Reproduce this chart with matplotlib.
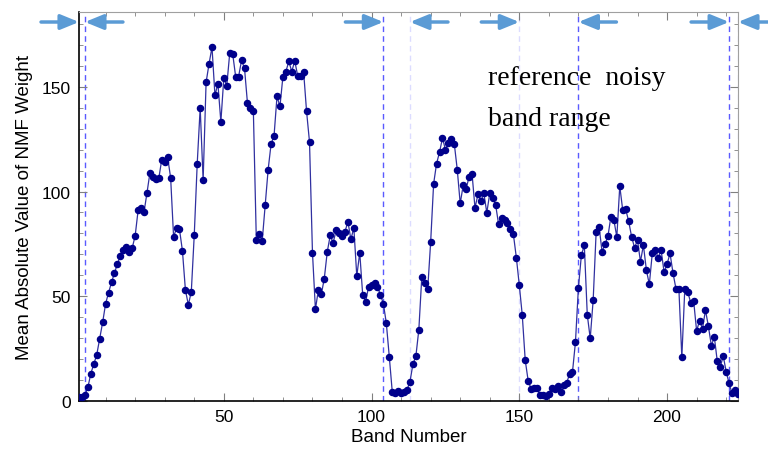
import numpy as np
import matplotlib.pyplot as plt
from matplotlib.ticker import MultipleLocator

# --- mean |NMF weight| per band ---
weight = [
    1.6, 1.6, 2.7, 6.4, 13, 17.5, 22, 29.7, 37.5, 46.4,
    51.7, 56.6, 61, 65.5, 69.3, 72, 73.6, 71, 73, 78.9,
    91.1, 92, 90.2, 99.4, 109, 106.9, 106, 106.4, 115.3, 114.2,
    116.3, 106.6, 78.4, 82.4, 81.9, 71.6, 53, 45.8, 52.2, 79.4,
    113.4, 140, 105.4, 152.2, 161.1, 169, 146, 151.6, 133.3, 154.3,
    150.6, 166.2, 165.9, 155, 155, 162.7, 159, 142.3, 140, 138.4,
    76.8, 79.8, 76.5, 93.8, 110.5, 122.8, 126.7, 145.5, 140.7, 155,
    157.4, 162.2, 157.4, 162.5, 155.4, 155.4, 157.4, 138.4, 123.7, 70.8,
    43.7, 53, 50.9, 58.4, 71.1, 79, 75.5, 81.4, 80.3, 78.7,
    80.8, 85.6, 77.1, 82.7, 59.6, 70.8, 50.6, 47.4, 54.5, 55.3,
    56.5, 54.5, 50.6, 46.4, 37, 21, 4.3, 3.7, 4.8, 3.5,
    4.3, 5.2, 9.1, 17.5, 21.3, 34, 59.2, 56.5, 53.3, 75.9,
    103.7, 113.4, 118.8, 125.6, 120, 123.3, 125.2, 122.8, 110.5, 94.3,
    102.9, 101.3, 107, 108.6, 92.2, 98.6, 95.4, 99.1, 89.9, 99.1,
    97, 93.5, 84.3, 87.5, 86.2, 84.8, 82.2, 79.5, 68.4, 55.2,
    40.9, 19.4, 9.5, 5.6, 5.9, 5.9, 2.5, 2.7, 2.4, 3,
    5.9, 5.8, 7.2, 4.3, 7.5, 8.3, 12.8, 13.8, 28, 54,
    69.5, 74.4, 41.1, 29.8, 48.2, 80.6, 83.2, 71.3, 74.8, 78.7,
    88, 86.4, 78.3, 102.6, 91.1, 91.5, 85.9, 78.4, 73.2, 76.7,
    66.5, 74.4, 62.5, 55.6, 70.5, 72.1, 68.4, 71.9, 61.5, 65.2,
    70.5, 61.2, 53.6, 53.6, 20.7, 53.3, 52, 46.9, 47.7, 33.4,
    38.2, 34.5, 43.3, 35.5, 26.3, 30.5, 18.8, 15.9, 21.5, 13.9,
    8.3, 3.5, 5.1, 3.2,
]
bands = np.arange(1, len(weight) + 1)

# band boundaries marked with dashed lines
dark_lines = [3, 104, 170, 221]
light_lines = [113, 150, 224]
# arrows: tip positions
right_arrow_tips = [1, 104, 150, 221]
left_arrow_tips = [3, 113, 170, 224]

x_ticks = [50, 100, 150, 200]
y_ticks = [0, 50, 100, 150]

fig = plt.figure(figsize=(7.68, 4.52), dpi=100)
ax = fig.add_axes([0.1029, 0.1113, 0.858, 0.8606])

for b in dark_lines:
    ax.axvline(b, color='#5a5aff', lw=1.0, ls=(0, (4, 3)), zorder=1)
for b in light_lines:
    ax.axvline(b, color='#dcdcff', lw=1.0, ls=(0, (4, 3)), zorder=1)

ax.plot(bands, weight, '-', color='#3030a0', lw=0.9, zorder=2)
ax.plot(bands, weight, 'o', color='#00008b', ms=4.4, mec='#00008b', zorder=3)

ax.set_xlim(1, 224)
ax.set_ylim(0, 186)
ax.set_xticks(x_ticks)
ax.set_yticks(y_ticks)
ax.xaxis.set_minor_locator(MultipleLocator(10))
ax.yaxis.set_minor_locator(MultipleLocator(10))
ax.tick_params(which='both', direction='in', top=True, right=True,
               color='#808080', labelsize=12.5)
ax.tick_params(which='major', length=6, pad=6)
ax.tick_params(which='minor', length=3)
for lab in ax.get_xticklabels() + ax.get_yticklabels():
    lab.set_fontfamily('Liberation Sans')
for s in ['top', 'right']:
    ax.spines[s].set_color('#a0a0a0')
for s in ['left', 'bottom']:
    ax.spines[s].set_linewidth(1.2)

ax.set_xlabel('Band Number', fontsize=13.5, family='Liberation Sans', labelpad=3)
ax.set_ylabel('Mean Absolute Value of NMF Weight', fontsize=13.5,
              family='Liberation Sans', labelpad=6)

# arrows above the plot
arrow_y = 0.9735
arrow_col = '#5b9bd5'
aprops = dict(arrowstyle='-|>,head_length=1.1,head_width=0.45',
              color=arrow_col, lw=2.5, shrinkA=0, shrinkB=0)
for b in right_arrow_tips:
    ax.annotate('', xy=(b, arrow_y), xycoords=('data', 'axes fraction'),
                xytext=(-38, 0), textcoords='offset pixels',
                arrowprops=aprops, annotation_clip=False)
for b in left_arrow_tips:
    ax.annotate('', xy=(b, arrow_y), xycoords=('data', 'axes fraction'),
                xytext=(38, 0), textcoords='offset pixels',
                arrowprops=aprops, annotation_clip=False)

ax.text(488 / 768, 1 - 85 / 452, 'reference  noisy', transform=fig.transFigure,
        fontsize=20, family='Liberation Serif', va='baseline')
ax.text(488 / 768, 1 - 126 / 452, 'band range', transform=fig.transFigure,
        fontsize=20, family='Liberation Serif', va='baseline')

fig.savefig('out.png', dpi=100)
